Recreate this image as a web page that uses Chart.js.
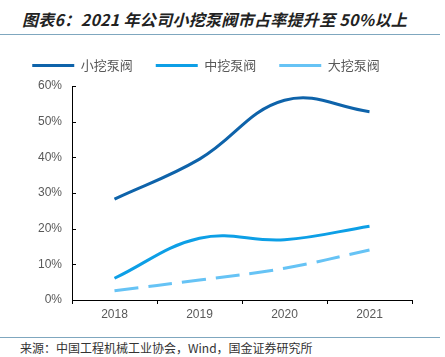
<!DOCTYPE html>
<html>
<head>
<meta charset="utf-8">
<script src="https://cdn.jsdelivr.net/npm/chart.js@4/dist/chart.umd.min.js"></script>
<style>
html,body{margin:0;padding:0;background:#fff;}
body{width:445px;height:357px;position:relative;overflow:hidden;}
#title{position:absolute;left:22px;top:9px;font-family:"Noto Sans CJK SC",sans-serif;font-weight:bold;font-style:italic;font-size:16px;color:#222;white-space:nowrap;line-height:20px;letter-spacing:0.3px;}
#tline{position:absolute;left:0;top:34px;width:440px;height:1px;background:#7fa7bf;}
#fline{position:absolute;left:0;top:337px;width:440px;height:1px;background:#7fa7bf;}
#foot{position:absolute;left:20px;top:340px;font-family:"Noto Sans CJK SC",sans-serif;font-size:12px;color:#333;white-space:nowrap;line-height:16px;}
#wrap{position:absolute;left:0;top:36px;width:445px;height:301px;}
</style>
</head>
<body>
<div id="title">图表6：2021 年公司小挖泵阀市占率提升至 50%以上</div>
<div id="tline"></div>
<div id="wrap"><canvas id="c"></canvas></div>
<div id="fline"></div>
<div id="foot">来源：中国工程机械工业协会，Wind，国金证券研究所</div>
<script>
const categories = ['2018', '2019', '2020', '2021'];
const smallExcavator = [28.3, 39.5, 56.0, 52.8];
const mediumExcavator = [6.1, 17.3, 16.9, 20.7];
const largeExcavator = [2.6, 5.6, 8.9, 14.0];
const seriesNames = ['小挖泵阀', '中挖泵阀', '大挖泵阀'];
const yTicks = [0, 10, 20, 30, 40, 50, 60];

const innerYTicks = {
  id: 'innerYTicks',
  afterDraw(chart) {
    const ctx = chart.ctx, y = chart.scales.y, a = chart.chartArea;
    ctx.save();
    ctx.strokeStyle = '#000';
    ctx.lineWidth = 1;
    y.ticks.forEach(t => {
      const py = Math.round(y.getPixelForValue(t.value)) + 0.5;
      ctx.beginPath();
      ctx.moveTo(a.left, py);
      ctx.lineTo(a.left + 4, py);
      ctx.stroke();
    });
    ctx.restore();
  }
};

const legendGap = {
  id: 'legendGap',
  beforeInit(chart) {
    if (!chart.legend) return;
    const fit = chart.legend.fit;
    chart.legend.fit = function () {
      fit.call(this);
      this.height += 4;
    };
  }
};

new Chart(document.getElementById('c'), {
  type: 'line',
  data: {
    labels: categories,
    datasets: [
      {label: seriesNames[0], data: smallExcavator, borderColor: '#0e63aa', backgroundColor: '#0e63aa', borderWidth: 3, pointRadius: 0, tension: 0.4},
      {label: seriesNames[1], data: mediumExcavator, borderColor: '#0d9fe6', backgroundColor: '#0d9fe6', borderWidth: 3, pointRadius: 0, tension: 0.4},
      {label: seriesNames[2], data: largeExcavator, borderColor: '#66c3f5', backgroundColor: '#66c3f5', borderWidth: 3, pointRadius: 0, tension: 0.4, borderDash: [24, 10]}
    ]
  },
  options: {
    responsive: true,
    maintainAspectRatio: false,
    animation: false,
    layout: {padding: {left: 0, right: 33, top: 0, bottom: 0}},
    plugins: {
      tooltip: {enabled: false},
      legend: {
        position: 'top',
        labels: {
          usePointStyle: true,
          pointStyle: 'line',
          pointStyleWidth: 42,
          boxHeight: 13,
          padding: 23,
          color: '#595959',
          font: {family: '"Noto Sans CJK SC", sans-serif', size: 13}
        }
      }
    },
    scales: {
      x: {
        offset: true,
        grid: {drawOnChartArea: false, drawTicks: true, tickLength: 4, color: '#000', offset: true},
        border: {color: '#000', width: 1},
        ticks: {color: '#595959', padding: 3, font: {family: '"Liberation Sans", Arial, sans-serif', size: 12}},
        afterFit(s) { s.height = 37; }
      },
      y: {
        min: 0, max: 60,
        afterBuildTicks(s) { s.ticks = yTicks.map(v => ({value: v})); },
        grid: {drawOnChartArea: false, drawTicks: false},
        border: {color: '#000', width: 1},
        ticks: {color: '#595959', padding: 10, callback: v => v + '%', font: {family: '"Liberation Sans", Arial, sans-serif', size: 12}},
        afterFit(s) { s.width = 72; }
      }
    }
  },
  plugins: [innerYTicks, legendGap]
});
</script>
</body>
</html>
